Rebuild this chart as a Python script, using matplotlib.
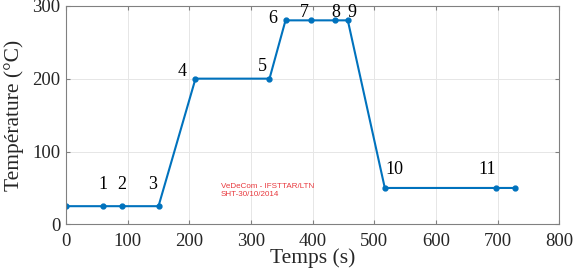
import matplotlib
matplotlib.use('Agg')
import matplotlib.pyplot as plt

# profile points (time in s, temperature in degC)
temps_s = [0, 60, 90, 150, 210, 330, 356, 397, 437, 457, 517, 698, 728]
temp_c = [25, 25, 25, 25, 200, 200, 280, 280, 280, 280, 50, 50, 50]
point_labels = ['', '1', '2', '3', '4', '5', '6', '7', '8', '9', '10', '11', '']

# label offsets in pixels (dx, dy)
label_offsets = [(0, 0), (0, 22), (0, 22), (-6, 22), (-13, 7), (-7, 12), (-13, 2),
                 (-6, 8), (0, 8), (4, 8), (10, 18), (-9, 18), (0, 0)]

serif = 'Liberation Serif'
grey = '#262626'

fig = plt.figure(figsize=(5.79, 2.75), dpi=100)
ax = fig.add_axes([0.114, 0.184, 0.852, 0.795])

ax.plot(temps_s, temp_c, '-', color='#0072BD', linewidth=1.5,
        marker='o', markersize=3.5)

for x, y, lab, (dx, dy) in zip(temps_s, temp_c, point_labels, label_offsets):
    if lab:
        ax.annotate(lab, (x, y), xytext=(dx, dy), textcoords='offset pixels',
                    ha='center', va='center', fontsize=13, family=serif,
                    color='black')

ax.set_xlim(0, 800)
ax.set_ylim(0, 300)
ax.set_xticks(range(0, 801, 100))
ax.set_yticks(range(0, 301, 100))
ax.grid(True, color='#e6e6e6', linewidth=0.7)
ax.set_axisbelow(True)

for s in ax.spines.values():
    s.set_color('#808080')
    s.set_linewidth(0.8)
ax.tick_params(direction='in', length=3, color='#808080', labelsize=13.5,
               labelcolor=grey, top=True, right=True)
ax.tick_params(axis='x', pad=6)
ax.tick_params(axis='y', pad=4)
for t in ax.get_xticklabels() + ax.get_yticklabels():
    t.set_family(serif)

ax.set_xlabel('Temps (s)', family=serif, fontsize=15.5, color=grey, labelpad=-1)
ax.set_ylabel('Température (°C)', family=serif, fontsize=15.5, color=grey, labelpad=6)

fig.text(0.381, 0.335, 'VeDeCom - IFSTTAR/LTN\nSHT-30/10/2014', fontsize=5.8,
         family='Liberation Sans', color='#e8383d', va='top', ha='left',
         linespacing=1.2)

fig.savefig('out.png', dpi=100)
